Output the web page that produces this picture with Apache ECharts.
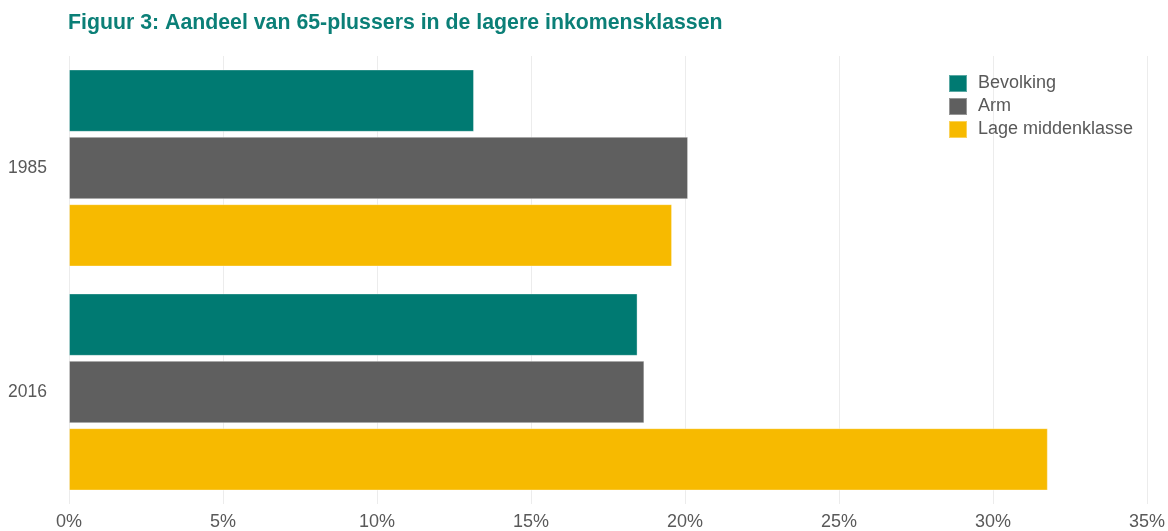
<!DOCTYPE html>
<html><head><meta charset="utf-8">
<script src="https://cdn.jsdelivr.net/npm/echarts@6/dist/echarts.min.js"></script>
<style>html,body{margin:0;padding:0;background:#fff}#c{width:1168px;height:531px}</style>
</head><body><div id="c"></div>
<script>
var categories = ['1985', '2016'];
var bevolking = [13.15, 18.46];
var arm = [20.1, 18.68];
var lageMidden = [19.58, 31.78];
var xTicks = [0, 5, 10, 15, 20, 25, 30, 35];

var font = '"Liberation Sans", Arial, Helvetica, sans-serif';
var chart = echarts.init(document.getElementById('c'));
function s(name, data, color) {
  return {
    name: name, type: 'bar', data: data,
    barGap: '8%', barCategoryGap: '12%',
    itemStyle: { color: color, borderColor: 'rgba(255,255,255,0.35)', borderWidth: 1 },
    emphasis: { disabled: true }
  };
}
chart.setOption({
  animation: false,
  title: {
    text: 'Figuur 3: Aandeel van 65-plussers in de lagere inkomensklassen',
    left: 63, top: 8,
    textStyle: { color: '#0B7F77', fontSize: 21.3, fontWeight: 'bold', fontFamily: font }
  },
  legend: {
    orient: 'vertical', left: 948, top: 74, padding: 0,
    itemWidth: 18, itemHeight: 17, itemGap: 4,
    icon: 'rect',
    textStyle: { color: '#595959', fontSize: 18, lineHeight: 17, fontFamily: font, padding: [0, 0, 0, 6] },
    data: ['Bevolking', 'Arm', 'Lage middenklasse']
  },
  grid: { left: 69, right: 21, top: 56, bottom: 26, containLabel: false },
  xAxis: {
    type: 'value', min: xTicks[0], max: xTicks[xTicks.length - 1], interval: 5,
    axisLine: { show: false }, axisTick: { show: false },
    splitLine: { show: true, lineStyle: { color: '#ececec', width: 1 } },
    axisLabel: { formatter: '{value}%', color: '#595959', fontSize: 18, fontFamily: font, margin: 9 }
  },
  yAxis: {
    type: 'category', data: categories, inverse: true,
    axisLine: { show: false }, axisTick: { show: false },
    axisLabel: { color: '#595959', fontSize: 17.5, fontFamily: font, margin: 22 }
  },
  series: [
    s('Bevolking', bevolking, '#007A72'),
    s('Arm', arm, '#5F5F5F'),
    s('Lage middenklasse', lageMidden, '#F7BA00')
  ]
});
</script></body></html>
